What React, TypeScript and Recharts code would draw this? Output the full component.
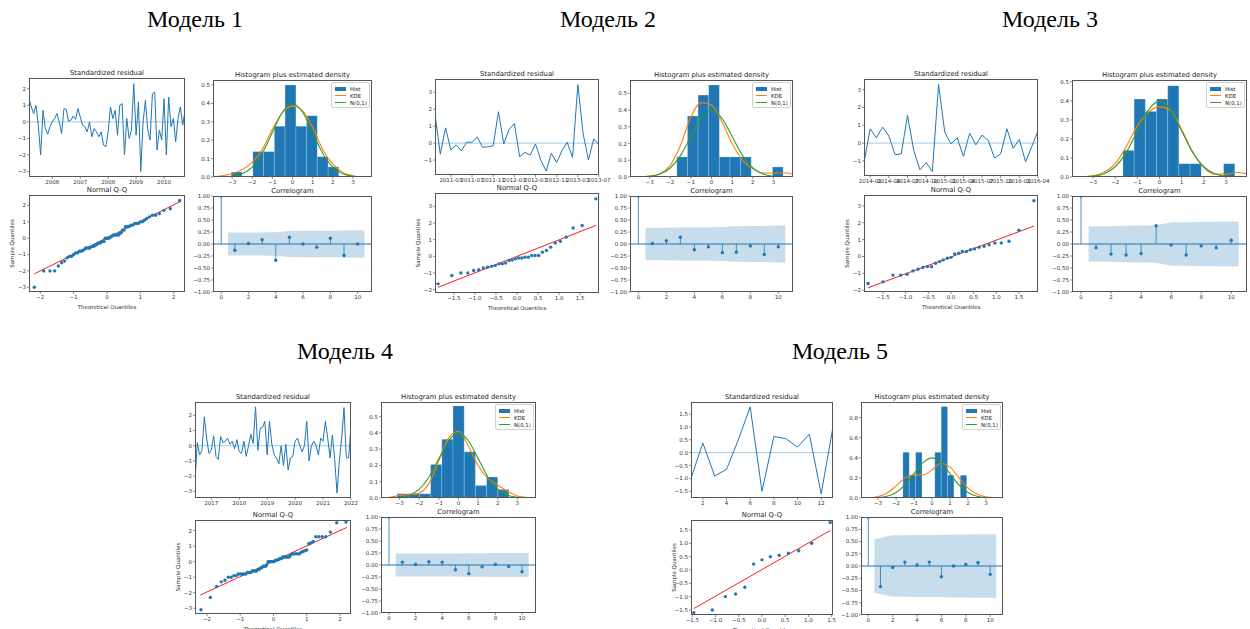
import React from 'react'
import {
  LineChart, Line, XAxis, YAxis, ReferenceLine, ReferenceArea,
  ComposedChart, Area, Scatter, ScatterChart, Label,
} from 'recharts'

// ---- data ----

// standardized residuals
const res1 = [1.4, 0.9, 0.5, 1.0, -0.2, -2.0, 0.7, -0.4, -0.75, -0.3,
  0.0, 0.2, 0.5, 0.0, -0.7, 0.8, 0.75, 0.05, 0.1, 0.35,
  0.15, 0.8, 0.3, -0.2, -0.3, -0.6, 0.0, -0.9, -0.4, -0.6,
  -0.9, -0.6, -1.4, -1.5, -0.6, 0.9, 0.2, 0.7, -0.8, 1.0,
  1.1, -2.0, 0.2, -1.0, -0.5, 2.3, -0.8, 1.2, -3.0, 0.0,
  1.3, -0.5, -1.1, 1.7, 1.8, -1.7, -0.5, -1.1, 1.4, -2.0,
  1.5, -0.3, 0.2, -1.2, 0.2, 0.9, -0.2, 0.7]
const res2 = [1.7, -0.65, 0.9, -0.4, -0.1, -0.45, 0.05, 0.05, 0.35, -0.25,
  -0.22, -0.15, 1.85, -0.05, 0.8, 1.15, -0.8, -0.55, -0.7, -0.05,
  -1.0, -1.65, -0.6, -1.15, -0.45, 0.05, -0.85, 3.45, 0.55, -1.0,
  0.25, -0.1]
const res3 = [-1.1, 0.8, 0.3, 0.9, 0.4, -0.65, -0.6, 1.55, -0.4, -1.5,
  -1.1, -1.6, 3.3, 0.6, -0.05, 0.3, -0.75, 0.55, -0.1, 0.45,
  0.15, -0.85, -0.6, 0.8, -0.3, 0.2, -1.05, -0.2, 0.7]
const res4 = [-2.3, 0.2, -0.6, -0.3, 1.9, 0.5, -0.5, -0.3, 0.65, -0.7,
  -0.9, 0.6, 0.2, 0.3, 0.5, 0.1, 0.3, -0.2, 0.4, -0.4,
  -0.5, 0.3, -0.7, 0.0, 0.75, 0.15, 2.55, -0.3, 1.15, 1.2,
  1.6, -0.6, 1.6, 0.1, -0.6, -0.8, -1.2, 0.0, -1.3, 0.1,
  -1.6, -0.8, -0.7, 0.3, 0.5, 0.0, -0.4, 0.0, 1.6, -1.0,
  0.0, 0.3, 0.0, -0.6, 0.5, 0.3, 1.6, 0.5, -0.8, 0.7,
  -0.9, -3.1, -1.0, 0.5, 2.5, -0.8, -0.8, 1.3]
const res5 = [-1.0, 0.38, -0.9, -0.65, 0.5, 1.78, -1.5, 0.63, 0.55, 0.22, 0.72, -1.6, 1.0]

// date tick positions (month index) and labels
const ticks1 = [10, 22, 34, 46, 58]
const labels1 = ['2006', '2007', '2008', '2009', '2010']
const ticks2 = [3, 7, 11, 15, 19, 23, 27, 31]
const labels2 = ['2011-03', '2011-07', '2011-11', '2012-03', '2012-07', '2012-11', '2013-03', '2013-07']
const ticks3 = [1, 4, 7, 10, 13, 16, 19, 22, 25, 28]
const labels3 = ['2014-01', '2014-04', '2014-07', '2014-10', '2015-01', '2015-04', '2015-07', '2015-10', '2016-01', '2016-04']
const ticks4 = [7, 19, 31, 43, 55, 67]
const labels4 = ['2017', '2018', '2019', '2020', '2021', '2022']
const ticks5 = [2, 4, 6, 8, 10, 12]
const labels5 = ['2', '4', '6', '8', '10', '12']

// theoretical quantiles on the Q-Q axes
const q68 = [-2.18, -1.9, -1.71, -1.57, -1.46, -1.36, -1.27, -1.19, -1.12, -1.06,
  -1.0, -0.94, -0.885, -0.83, -0.78, -0.73, -0.685, -0.64, -0.597, -0.555,
  -0.512, -0.471, -0.431, -0.391, -0.352, -0.314, -0.277, -0.239, -0.202, -0.164,
  -0.128, -0.091, -0.055, -0.018, 0.018, 0.055, 0.091, 0.128, 0.164, 0.202,
  0.239, 0.277, 0.314, 0.352, 0.391, 0.431, 0.471, 0.512, 0.555, 0.597,
  0.64, 0.685, 0.73, 0.78, 0.83, 0.885, 0.94, 1.0, 1.06, 1.12,
  1.19, 1.27, 1.36, 1.46, 1.57, 1.71, 1.9, 2.18]
const q32 = [-1.876, -1.55, -1.335, -1.17, -1.03, -0.91, -0.8, -0.7, -0.605, -0.515,
  -0.43, -0.35, -0.27, -0.19, -0.114, -0.038, 0.038, 0.114, 0.19, 0.27,
  0.35, 0.43, 0.515, 0.605, 0.7, 0.8, 0.91, 1.03, 1.17, 1.335, 1.55, 1.876]
const q29 = [-1.83, -1.5, -1.28, -1.11, -0.97, -0.84, -0.73, -0.62, -0.52, -0.43,
  -0.34, -0.25, -0.17, -0.08, 0, 0.08, 0.17, 0.25, 0.34, 0.43,
  0.52, 0.62, 0.73, 0.84, 0.97, 1.11, 1.28, 1.5, 1.83]
const q13 = [-1.47, -1.07, -0.79, -0.57, -0.37, -0.18, 0, 0.18, 0.37, 0.57, 0.79, 1.07, 1.47]

// red reference line end points [x1, y1, x2, y2]
const qqLine1 = [-2.18, -2.18, 2.18, 2.22]
const qqLine2 = [-1.88, -1.86, 1.88, 1.86]
const qqLine3 = [-1.83, -1.85, 1.83, 1.8]
const qqLine4 = [-2.2, -2.15, 2.2, 2.2]
const qqLine5 = [-1.47, -1.45, 1.47, 1.48]

// histogram bins
const edges1 = [-3.04, -2.51, -1.97, -1.44, -0.9, -0.37, 0.17, 0.7, 1.23, 1.77, 2.3]
const dens1 = [0.027, 0, 0.138, 0.138, 0.276, 0.5, 0.276, 0.333, 0.11, 0.055]
const edges2 = [-1.68, -1.165, -0.65, -0.135, 0.38, 0.895, 1.41, 1.925, 2.44, 2.955, 3.47]
const dens2 = [0.12, 0.365, 0.49, 0.55, 0.12, 0.12, 0.12, 0, 0, 0.06]
const edges3 = [-1.65, -1.145, -0.64, -0.135, 0.37, 0.875, 1.38, 1.885, 2.39, 2.895, 3.4]
const dens3 = [0.14, 0.41, 0.345, 0.41, 0.48, 0.07, 0.07, 0, 0, 0.07]
const edges4 = [-3.13, -2.56, -1.99, -1.42, -0.85, -0.28, 0.29, 0.86, 1.43, 2.0, 2.57]
const dens4 = [0.026, 0.026, 0.026, 0.206, 0.361, 0.566, 0.284, 0.077, 0.129, 0.052]
const edges5 = [-1.62, -1.265, -0.91, -0.555, -0.2, 0.155, 0.51, 0.865, 1.22, 1.575, 1.93]
const dens5 = [0.455, 0.227, 0.455, 0, 0, 0.455, 0.91, 0.227, 0, 0.227]

// density curves sampled on a common grid
const densGrid = [-4, -3.5, -3, -2.5, -2, -1.5, -1, -0.5, 0, 0.5, 1, 1.5, 2, 2.5, 3, 3.5, 4]
const normCurve = [0.0001, 0.0009, 0.0044, 0.0175, 0.054, 0.1295, 0.242, 0.352, 0.399, 0.352, 0.242, 0.1295, 0.054, 0.0175, 0.0044, 0.0009, 0.0001]
const kde1 = [0.002, 0.007, 0.018, 0.04, 0.08, 0.15, 0.26, 0.35, 0.385, 0.36, 0.27, 0.15, 0.07, 0.025, 0.007, 0.001, 0.0]
const kde2 = [0.0, 0.001, 0.005, 0.02, 0.07, 0.19, 0.36, 0.445, 0.43, 0.33, 0.2, 0.1, 0.05, 0.025, 0.022, 0.025, 0.015]
const kde3 = [0.0, 0.001, 0.006, 0.025, 0.07, 0.16, 0.27, 0.34, 0.37, 0.35, 0.25, 0.13, 0.05, 0.015, 0.015, 0.025, 0.015]
const kde4 = [0.001, 0.005, 0.015, 0.02, 0.03, 0.09, 0.23, 0.37, 0.41, 0.32, 0.2, 0.12, 0.08, 0.04, 0.012, 0.003, 0.0]
const kde5 = [0.0, 0.003, 0.015, 0.05, 0.12, 0.2, 0.23, 0.23, 0.28, 0.345, 0.31, 0.2, 0.1, 0.04, 0.012, 0.003, 0.0]

// correlogram
const lags = [0, 1, 2, 3, 4, 5, 6, 7, 8, 9, 10]
const acf1 = [1, -0.13, 0.01, 0.09, -0.34, 0.14, 0.0, -0.07, 0.12, -0.24, 0.0]
const acf2 = [1, 0.01, 0.07, 0.14, -0.12, -0.06, -0.18, -0.17, -0.04, -0.22, -0.06]
const acf3 = [1, -0.08, -0.21, -0.23, -0.2, 0.38, -0.02, -0.23, -0.04, -0.08, 0.08]
const acf4 = [1, 0.06, 0.01, 0.07, 0.06, -0.1, -0.18, -0.04, 0.01, -0.03, -0.14]
const acf5 = [1, -0.42, -0.03, 0.08, 0.02, 0.08, -0.22, 0.0, 0.03, 0.07, -0.17]
const bandX = [0.5, 2, 3, 4, 5, 6, 7, 8, 9, 10.5]
const band1 = [0.238, 0.242, 0.242, 0.244, 0.27, 0.274, 0.274, 0.275, 0.279, 0.289]
const band2 = [0.34, 0.34, 0.345, 0.35, 0.35, 0.355, 0.37, 0.375, 0.375, 0.39]
const band3 = [0.365, 0.37, 0.38, 0.385, 0.39, 0.455, 0.455, 0.465, 0.465, 0.47]
const band4 = [0.238, 0.239, 0.239, 0.24, 0.241, 0.243, 0.247, 0.248, 0.248, 0.25]
const band5 = [0.544, 0.63, 0.63, 0.632, 0.632, 0.635, 0.645, 0.645, 0.646, 0.648]

// ---- styling ----
const BLUE = '#1f77b4'
const ORANGE = '#ff7f0e'
const GREEN = '#2ca02c'
const INK = '#333'
const L = 26
const R = 14
const T = 6
const B = 10
const tick = { fontSize: 5.5, fill: INK, fontFamily: 'DejaVu Sans' }
const tickLine = { stroke: '#444', strokeWidth: 0.6 }

type Box = { x: number; y: number; w: number; h: number }

const fmt = (d: number) => (v: number) => (v < -1e-9 ? '\u2212' : '') + Math.abs(v).toFixed(d)

const place = (b: Box, bottom: number): React.CSSProperties => ({
  position: 'absolute', left: b.x - L, top: b.y - T, width: L + b.w + R, height: T + b.h + bottom,
})

function Frame({ box }: { box: Box }) {
  return (
    <div style={{
      position: 'absolute', left: box.x, top: box.y, width: box.w, height: box.h,
      border: '1px solid #555', boxSizing: 'border-box', pointerEvents: 'none',
    }} />
  )
}

function SubTitle({ box, text }: { box: Box; text: string }) {
  return (
    <div style={{
      position: 'absolute', left: box.x - 20, width: box.w + 40, top: box.y - 9,
      textAlign: 'center', fontSize: 6.8, lineHeight: '8px', color: '#222', whiteSpace: 'nowrap',
    }}>{text}</div>
  )
}

function axes(b: Box, bottom: number) {
  return { width: L + b.w + R, height: T + b.h + bottom, margin: { top: T, right: R, bottom: 0, left: 0 } }
}

function Resid(p: any) {
  const b: Box = p.box
  const rows = p.values.map((v: number, i: number) => ({ t: p.x0 + i, v }))
  const lab = (v: number) => p.labels[p.ticks.indexOf(v)] ?? String(v)
  return (
    <>
      <div style={place(b, B)}>
        <LineChart {...axes(b, B)} data={rows}>
          <XAxis type="number" dataKey="t" domain={[p.x0, p.x0 + p.values.length - 1]} ticks={p.ticks}
            interval={0} tickFormatter={lab} height={B} axisLine={false} tickSize={2} tickMargin={1}
            tick={tick} tickLine={tickLine} allowDataOverflow />
          <YAxis type="number" domain={p.yDomain} ticks={p.yTicks} interval={0} width={L}
            tickFormatter={fmt(p.yDec)} axisLine={false} tickSize={2} tickMargin={1}
            tick={tick} tickLine={tickLine} allowDataOverflow />
          <ReferenceLine y={0} stroke={BLUE} strokeOpacity={0.5} strokeWidth={0.8} />
          <Line type="linear" dataKey="v" stroke={BLUE} strokeWidth={1} dot={false} isAnimationActive={false} />
        </LineChart>
      </div>
      <Frame box={b} />
      <SubTitle box={b} text="Standardized residual" />
    </>
  )
}

function HistLegend({ box }: { box: Box }) {
  const row = (sw: React.ReactNode, text: string) => (
    <div style={{ display: 'flex', alignItems: 'center', height: 7 }}>
      <div style={{ width: 11, marginRight: 4, display: 'flex', alignItems: 'center' }}>{sw}</div>
      <span>{text}</span>
    </div>
  )
  return (
    <div style={{
      position: 'absolute', left: box.x + box.w - 41, top: box.y + 2, width: 39, height: 26,
      boxSizing: 'border-box', border: '0.6px solid #d0d0d0', borderRadius: 2,
      background: 'rgba(255,255,255,0.85)', fontSize: 5.4, color: '#222', padding: '2px 3px',
    }}>
      {row(<div style={{ width: 11, height: 4, background: BLUE }} />, 'Hist')}
      {row(<div style={{ width: 11, height: 1.2, background: ORANGE }} />, 'KDE')}
      {row(<div style={{ width: 11, height: 1.2, background: GREEN }} />, 'N(0,1)')}
    </div>
  )
}

function Hist(p: any) {
  const b: Box = p.box
  const rows = densGrid.map((x, i) => ({ x, kde: p.kde[i], norm: normCurve[i] }))
  return (
    <>
      <div style={place(b, B)}>
        <ComposedChart {...axes(b, B)} data={rows}>
          <XAxis type="number" dataKey="x" domain={[-3.95, 3.95]} ticks={[-3, -2, -1, 0, 1, 2, 3]}
            interval={0} tickFormatter={fmt(0)} height={B} axisLine={false} tickSize={2} tickMargin={1}
            tick={tick} tickLine={tickLine} allowDataOverflow />
          <YAxis type="number" domain={[0, p.yMax]} ticks={p.yTicks} interval={0} width={L}
            tickFormatter={fmt(1)} axisLine={false} tickSize={2} tickMargin={1}
            tick={tick} tickLine={tickLine} allowDataOverflow />
          {p.dens.map((h: number, i: number) => h > 0 ? (
            <ReferenceArea key={i} x1={p.edges[i]} x2={p.edges[i + 1]} y1={0} y2={h}
              fill={BLUE} fillOpacity={1} stroke="#ffffff" strokeOpacity={0.35} strokeWidth={0.6} />
          ) : null)}
          <Line type="monotone" dataKey="kde" stroke={ORANGE} strokeWidth={1.1} dot={false} isAnimationActive={false} />
          <Line type="monotone" dataKey="norm" stroke={GREEN} strokeWidth={1.1} dot={false} isAnimationActive={false} />
        </ComposedChart>
      </div>
      <Frame box={b} />
      <HistLegend box={b} />
      <SubTitle box={b} text="Histogram plus estimated density" />
    </>
  )
}

const dot = (r: number) => (s: any) => <circle cx={s.cx} cy={s.cy} r={r} fill={BLUE} />

function QQ(p: any) {
  const b: Box = p.box
  const QB = 17
  const sorted = [...p.sample].sort((a: number, c: number) => a - c)
  const pts = p.theory.map((x: number, i: number) => ({ x, y: sorted[i] }))
  const [x1, y1, x2, y2] = p.line
  return (
    <>
      <div style={place(b, QB)}>
        <ScatterChart {...axes(b, QB)}>
          <XAxis type="number" dataKey="x" domain={p.xDomain} ticks={p.xTicks} interval={0}
            tickFormatter={fmt(p.xDec)} height={QB} axisLine={false} tickSize={2} tickMargin={1}
            tick={tick} tickLine={tickLine} allowDataOverflow>
            <Label value="Theoretical Quantiles" position="insideBottom" offset={0}
              style={{ fontSize: 5.5, fill: INK }} />
          </XAxis>
          <YAxis type="number" dataKey="y" domain={p.yDomain} ticks={p.yTicks} interval={0} width={L}
            tickFormatter={fmt(p.yDec)} axisLine={false} tickSize={2} tickMargin={1}
            tick={tick} tickLine={tickLine} allowDataOverflow>
            <Label value="Sample Quantiles" angle={-90} position="insideLeft" offset={9}
              style={{ fontSize: 5.5, fill: INK, textAnchor: 'middle' }} />
          </YAxis>
          <Scatter data={pts} shape={dot(1.7)} isAnimationActive={false} />
          <ReferenceLine segment={[{ x: x1, y: y1 }, { x: x2, y: y2 }]} stroke="#ff0000" strokeWidth={0.9} />
        </ScatterChart>
      </div>
      <Frame box={b} />
      <SubTitle box={b} text="Normal Q-Q" />
    </>
  )
}

function Acf(p: any) {
  const b: Box = p.box
  const rows = bandX.map((x, i) => ({ x, band: [-p.band[i], p.band[i]] }))
  const pts = lags.map((x, i) => ({ x, y: p.acf[i] }))
  return (
    <>
      <div style={place(b, B)}>
        <ComposedChart {...axes(b, B)} data={rows}>
          <XAxis type="number" dataKey="x" domain={[-0.6, 11.05]} ticks={[0, 2, 4, 6, 8, 10]} interval={0}
            tickFormatter={fmt(0)} height={B} axisLine={false} tickSize={2} tickMargin={1}
            tick={tick} tickLine={tickLine} allowDataOverflow />
          <YAxis type="number" domain={[-1, 1]} ticks={[-1, -0.75, -0.5, -0.25, 0, 0.25, 0.5, 0.75, 1]}
            interval={0} width={L} tickFormatter={fmt(2)} axisLine={false} tickSize={2} tickMargin={1}
            tick={tick} tickLine={tickLine} allowDataOverflow />
          <Area type="linear" dataKey="band" fill={BLUE} fillOpacity={0.25} stroke="none" isAnimationActive={false} />
          <ReferenceLine y={0} stroke={BLUE} strokeWidth={1.1} />
          {pts.map((d) => (
            <ReferenceLine key={d.x} segment={[{ x: d.x, y: 0 }, { x: d.x, y: d.y }]} stroke={BLUE} strokeWidth={0.8} />
          ))}
          <Scatter data={pts} dataKey="y" shape={dot(1.7)} isAnimationActive={false} />
        </ComposedChart>
      </div>
      <Frame box={b} />
      <SubTitle box={b} text="Correlogram" />
    </>
  )
}

function BigTitle({ cx, cy, text }: { cx: number; cy: number; text: string }) {
  return (
    <div style={{
      position: 'absolute', left: cx - 100, width: 200, top: cy - 13, lineHeight: '26px',
      textAlign: 'center', fontSize: 24, fontFamily: '"Liberation Serif", "DejaVu Serif", serif', color: '#000',
    }}>{text}</div>
  )
}

function Model(p: any) {
  return (
    <>
      <Resid box={p.lay.resid} values={p.res} x0={p.x0} ticks={p.ticks} labels={p.labels}
        yDomain={p.rDom} yTicks={p.rTicks} yDec={p.rDec} />
      <Hist box={p.lay.hist} edges={p.edges} dens={p.dens} kde={p.kde} yMax={p.hMax} yTicks={p.hTicks} />
      <QQ box={p.lay.qq} sample={p.res} theory={p.theory} line={p.line} xDomain={p.qxDom} yDomain={p.qyDom}
        xTicks={p.qxTicks} yTicks={p.qyTicks} xDec={p.qxDec} yDec={p.qyDec} />
      <Acf box={p.lay.acf} acf={p.acf} band={p.band} />
    </>
  )
}

const lay1 = {
  resid: { x: 29, y: 78, w: 156, h: 99 }, qq: { x: 29, y: 195, w: 156, h: 97 },
  hist: { x: 213, y: 80, w: 159, h: 97 }, acf: { x: 213, y: 196, w: 159, h: 96 },
}
const lay2 = {
  resid: { x: 435, y: 79, w: 164, h: 96 }, qq: { x: 435, y: 193, w: 164, h: 100 },
  hist: { x: 630, y: 80, w: 163, h: 97 }, acf: { x: 630, y: 196, w: 163, h: 96 },
}
const lay3 = {
  resid: { x: 864, y: 79, w: 174, h: 97 }, qq: { x: 864, y: 195, w: 174, h: 97 },
  hist: { x: 1072, y: 80, w: 175, h: 97 }, acf: { x: 1072, y: 196, w: 175, h: 96 },
}
const lay4 = {
  resid: { x: 195, y: 402, w: 156, h: 96 }, qq: { x: 195, y: 520, w: 156, h: 94 },
  hist: { x: 381, y: 402, w: 155, h: 96 }, acf: { x: 381, y: 517, w: 155, h: 96 },
}
const lay5 = {
  resid: { x: 691, y: 402, w: 142, h: 96 }, qq: { x: 691, y: 520, w: 142, h: 95 },
  hist: { x: 861, y: 402, w: 142, h: 96 }, acf: { x: 861, y: 517, w: 142, h: 98 },
}

const t05 = [0, 0.1, 0.2, 0.3, 0.4, 0.5]
const intTicks32 = [-3, -2, -1, 0, 1, 2]
const intTicks13 = [-1, 0, 1, 2, 3]
const intTicks23 = [-2, -1, 0, 1, 2, 3]
const halfTicks = [-1.5, -1, -0.5, 0, 0.5, 1, 1.5]
const int2 = [-2, -1, 0, 1, 2]

export default function App() {
  return (
    <div style={{
      position: 'absolute', left: 0, top: 0, width: 1250, height: 629, background: '#fff',
      overflow: 'hidden', fontFamily: '"DejaVu Sans", sans-serif',
    }}>
      <BigTitle cx={195} cy={19} text="Модель 1" />
      <BigTitle cx={608} cy={19} text="Модель 2" />
      <BigTitle cx={1050} cy={19} text="Модель 3" />
      <BigTitle cx={345} cy={351} text="Модель 4" />
      <BigTitle cx={840} cy={351} text="Модель 5" />

      <Model lay={lay1} res={res1} x0={0} ticks={ticks1} labels={labels1} rDom={[-3.33, 2.65]} rTicks={intTicks32} rDec={0}
        edges={edges1} dens={dens1} kde={kde1} hMax={0.527} hTicks={t05}
        theory={q68} line={qqLine1} qxDom={[-2.34, 2.34]} qyDom={[-3.29, 2.64]} qxTicks={int2} qyTicks={intTicks32} qxDec={0} qyDec={0}
        acf={acf1} band={band1} />
      <Model lay={lay2} res={res2} x0={0} ticks={ticks2} labels={labels2} rDom={[-1.88, 3.78]} rTicks={intTicks13} rDec={0}
        edges={edges2} dens={dens2} kde={kde2} hMax={0.58} hTicks={t05}
        theory={q32} line={qqLine2} qxDom={[-1.95, 1.95]} qyDom={[-2.2, 3.8]} qxTicks={halfTicks} qyTicks={intTicks23} qxDec={1} qyDec={0}
        acf={acf2} band={band2} />
      <Model lay={lay3} res={res3} x0={0} ticks={ticks3} labels={labels3} rDom={[-1.85, 3.6]} rTicks={intTicks13} rDec={0}
        edges={edges3} dens={dens3} kde={kde3} hMax={0.51} hTicks={t05}
        theory={q29} line={qqLine3} qxDom={[-1.92, 1.92]} qyDom={[-2.1, 3.64]} qxTicks={halfTicks} qyTicks={intTicks23} qxDec={1} qyDec={0}
        acf={acf3} band={band3} />
      <Model lay={lay4} res={res4} x0={0} ticks={ticks4} labels={labels4} rDom={[-3.43, 2.87]} rTicks={intTicks32} rDec={0}
        edges={edges4} dens={dens4} kde={kde4} hMax={0.59} hTicks={t05}
        theory={q68} line={qqLine4} qxDom={[-2.36, 2.33]} qyDom={[-3.37, 2.68]} qxTicks={int2} qyTicks={intTicks32} qxDec={0} qyDec={0}
        acf={acf4} band={band4} />
      <Model lay={lay5} res={res5} x0={1} ticks={ticks5} labels={labels5} rDom={[-1.76, 1.97]} rTicks={halfTicks} rDec={1}
        edges={edges5} dens={dens5} kde={kde5} hMax={0.955} hTicks={[0, 0.2, 0.4, 0.6, 0.8]}
        theory={q13} line={qqLine5} qxDom={[-1.53, 1.53]} qyDom={[-1.69, 1.875]} qxTicks={halfTicks} qyTicks={halfTicks} qxDec={1} qyDec={1}
        acf={acf5} band={band5} />
    </div>
  )
}
